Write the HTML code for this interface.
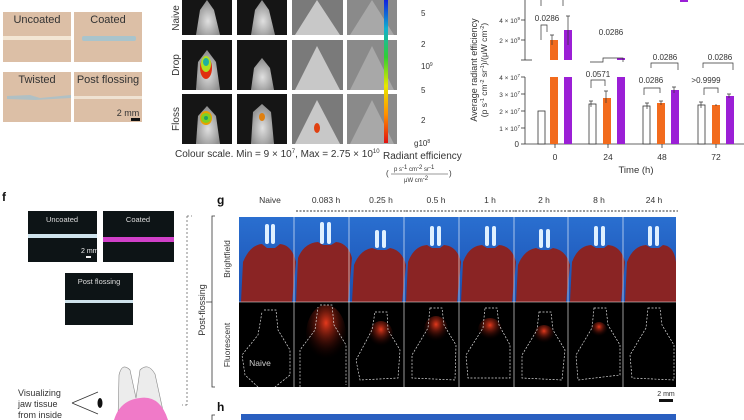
<!DOCTYPE html>
<html><head><meta charset="utf-8"><style>
html,body{margin:0;padding:0;background:#fff;}
svg{display:block;font-family:"Liberation Sans",sans-serif;}
</style></head><body>
<svg width="744" height="420" viewBox="0 0 744 420" xmlns="http://www.w3.org/2000/svg">
<defs>
<radialGradient id="glow" cx="50%" cy="30%" r="60%"><stop offset="0" stop-color="#ff4020" stop-opacity="0.9"/><stop offset="1" stop-color="#200000" stop-opacity="0"/></radialGradient>
<linearGradient id="cbar" x1="0" y1="1" x2="0" y2="0"><stop offset="0" stop-color="#e01010"/><stop offset="0.2" stop-color="#ff9000"/><stop offset="0.4" stop-color="#e8e800"/><stop offset="0.6" stop-color="#30d030"/><stop offset="0.8" stop-color="#10b0d0"/><stop offset="1" stop-color="#1020e0"/></linearGradient>
<radialGradient id="mouse" cx="50%" cy="60%" r="55%"><stop offset="0" stop-color="#e0e0e0"/><stop offset="1" stop-color="#909090"/></radialGradient>
<linearGradient id="blue" x1="0" y1="0" x2="0" y2="1"><stop offset="0" stop-color="#2a6fd0"/><stop offset="1" stop-color="#1a4fb0"/></linearGradient>
</defs>
<g font-size="11" fill="#333" text-anchor="middle">
<rect x="3" y="12" width="68" height="50" fill="#dcbfa6"/><rect x="3" y="36" width="68" height="4" fill="#f3e6d4"/><text x="37" y="23">Uncoated</text>
<rect x="74" y="12" width="68" height="50" fill="#dcbfa6"/><rect x="82" y="36" width="54" height="5" rx="2" fill="#a9c4cc"/><text x="108" y="23">Coated</text>
<rect x="3" y="72" width="68" height="50" fill="#dcbfa6"/><path d="M7 96 L30 95 L40 98 L71 95 L71 98 L35 100 L7 99Z" fill="#b0c0c4"/><text x="37" y="83">Twisted</text>
<rect x="74" y="72" width="68" height="50" fill="#dcbfa6"/><rect x="74" y="96" width="68" height="3" fill="#efe2d2"/><text x="108" y="83">Post flossing</text>
<text x="128" y="116" font-size="9">2 mm</text><rect x="131" y="118" width="9" height="3" fill="#111"/>
</g>
<g font-size="10" fill="#333">
<text transform="translate(179,18) rotate(-90)" text-anchor="middle">Naive</text>
<text transform="translate(179,65) rotate(-90)" text-anchor="middle">Drop</text>
<text transform="translate(179,119) rotate(-90)" text-anchor="middle">Floss</text>
</g>
<g>
<rect x="182" y="0" width="50" height="35" fill="#151515"/><rect x="237" y="0" width="50" height="35" fill="#151515"/><rect x="292" y="0" width="51" height="35" fill="#7a7a7a"/><rect x="347" y="0" width="50" height="35" fill="#8a8a8a"/>
<rect x="182" y="40" width="50" height="50" fill="#151515"/><rect x="237" y="40" width="50" height="50" fill="#151515"/><rect x="292" y="40" width="51" height="50" fill="#7a7a7a"/><rect x="347" y="40" width="50" height="50" fill="#8a8a8a"/>
<rect x="182" y="94" width="50" height="50" fill="#151515"/><rect x="237" y="94" width="50" height="50" fill="#151515"/><rect x="292" y="94" width="51" height="50" fill="#7a7a7a"/><rect x="347" y="94" width="50" height="50" fill="#8a8a8a"/>
<path d="M196 35 L200 10 L207 0 L214 10 L220 35Z" fill="url(#mouse)"/><path d="M251 35 L255 10 L262 0 L269 10 L275 35Z" fill="url(#mouse)"/>
<path d="M196 90 L198 62 L207 50 L216 62 L220 90Z" fill="url(#mouse)"/><path d="M251 90 L254 68 L262 58 L270 68 L274 90Z" fill="url(#mouse)"/>
<path d="M196 144 L198 116 L207 106 L216 116 L220 144Z" fill="url(#mouse)"/><path d="M251 144 L253 112 L262 104 L271 112 L274 144Z" fill="url(#mouse)"/>
<path d="M295 35 L317 0 L340 35Z" fill="#c8c8c8"/><path d="M295 90 L317 46 L340 90Z" fill="#c8c8c8"/><path d="M295 144 L317 100 L340 144Z" fill="#c8c8c8"/>
<path d="M350 35 L372 0 L394 35Z" fill="#a8a8a8"/><path d="M350 90 L372 46 L394 90Z" fill="#a8a8a8"/><path d="M350 144 L372 100 L394 144Z" fill="#a8a8a8"/>
<ellipse cx="206" cy="68" rx="6" ry="11" fill="#e03010"/><ellipse cx="206" cy="64" rx="5" ry="8" fill="#b0e020"/><ellipse cx="206" cy="62" rx="3" ry="4" fill="#20b0a0"/>
<ellipse cx="206" cy="118" rx="6" ry="7" fill="#e8a000"/><ellipse cx="206" cy="118" rx="5" ry="5" fill="#80d020"/><ellipse cx="206" cy="118" rx="2" ry="2" fill="#20a060"/>
<ellipse cx="262" cy="117" rx="3" ry="4" fill="#e08010"/><ellipse cx="317" cy="128" rx="3" ry="5" fill="#e04010"/>
</g>
<text x="175" y="157" font-size="10" fill="#333">Colour scale. Min = 9 × 10<tspan font-size="6" dy="-4">7</tspan><tspan dy="4">, Max = 2.75 × 10</tspan><tspan font-size="6" dy="-4">10</tspan></text>
<rect x="384" y="0" width="4" height="143" fill="url(#cbar)"/>
<g font-size="8" fill="#333"><text x="421" y="16">5</text><text x="421" y="47">2</text><text x="421" y="69">10<tspan font-size="5" dy="-3">9</tspan></text><text x="421" y="93">5</text><text x="421" y="123">2</text><text x="414" y="146">g10<tspan font-size="5" dy="-3">8</tspan></text></g>
<text x="383" y="159" font-size="10" fill="#333">Radiant efficiency</text>
<text x="394" y="171" font-size="6" fill="#333">p s<tspan dy="-2">-1</tspan><tspan dy="2"> cm</tspan><tspan dy="-2">-2</tspan><tspan dy="2"> sr</tspan><tspan dy="-2">-1</tspan></text>
<line x1="391" y1="174" x2="448" y2="174" stroke="#333" stroke-width="0.6"/><text x="386" y="176" font-size="8" fill="#333">(</text><text x="449" y="176" font-size="8" fill="#333">)</text>
<text x="404" y="182" font-size="6" fill="#333">μW cm<tspan dy="-2">-2</tspan></text>
<g stroke="#333" stroke-width="0.8" fill="none">
<line x1="525" y1="0" x2="525" y2="60"/><line x1="525" y1="77" x2="525" y2="144"/><line x1="525" y1="144" x2="744" y2="144"/>
<line x1="521" y1="20" x2="525" y2="20"/><line x1="521" y1="40" x2="525" y2="40"/><line x1="521" y1="60" x2="532" y2="60"/>
<line x1="521" y1="77" x2="525" y2="77"/><line x1="521" y1="94" x2="525" y2="94"/><line x1="521" y1="111" x2="525" y2="111"/><line x1="521" y1="128" x2="525" y2="128"/><line x1="521" y1="144" x2="525" y2="144"/>
<line x1="555" y1="144" x2="555" y2="148"/><line x1="608" y1="144" x2="608" y2="148"/><line x1="662" y1="144" x2="662" y2="148"/><line x1="716" y1="144" x2="716" y2="148"/>
</g>
<g font-size="6.5" fill="#333" text-anchor="end">
<text x="520" y="23">4 × 10<tspan font-size="4.5" dy="-3">9</tspan></text><text x="520" y="43">2 × 10<tspan font-size="4.5" dy="-3">9</tspan></text>
<text x="520" y="80">4 × 10<tspan font-size="4.5" dy="-3">7</tspan></text><text x="520" y="97">3 × 10<tspan font-size="4.5" dy="-3">7</tspan></text><text x="520" y="114">2 × 10<tspan font-size="4.5" dy="-3">7</tspan></text><text x="520" y="131">1 × 10<tspan font-size="4.5" dy="-3">7</tspan></text><text x="519" y="147" font-size="8">0</text>
</g>
<g font-size="8.5" fill="#333" text-anchor="middle"><text x="555" y="160">0</text><text x="608" y="160">24</text><text x="662" y="160">48</text><text x="716" y="160">72</text><text x="636" y="173" font-size="9.5">Time (h)</text></g>
<text transform="translate(477,70) rotate(-90)" font-size="9" fill="#333" text-anchor="middle">Average radiant efficiency</text>
<text transform="translate(487,70) rotate(-90)" font-size="8.5" fill="#333" text-anchor="middle">(p s<tspan font-size="5.5" dy="-3">-1</tspan><tspan dy="3"> cm</tspan><tspan font-size="5.5" dy="-3">-2</tspan><tspan dy="3"> sr</tspan><tspan font-size="5.5" dy="-3">-1</tspan><tspan dy="3">)/(μW cm</tspan><tspan font-size="5.5" dy="-3">-2</tspan><tspan dy="3">)</tspan></text>
<g stroke="#333" stroke-width="0.8">
<rect x="538" y="111" width="7" height="33" fill="#fff"/>
<rect x="550" y="77" width="8" height="67" fill="#f26b1d" stroke="none"/><rect x="550" y="40" width="8" height="20" fill="#f26b1d" stroke="none"/>
<rect x="564" y="77" width="8" height="67" fill="#9b1fd6" stroke="none"/><rect x="564" y="30" width="8" height="30" fill="#9b1fd6" stroke="none"/>
<rect x="589" y="104" width="7" height="40" fill="#fff"/><rect x="603" y="98" width="8" height="46" fill="#f26b1d" stroke="none"/>
<rect x="617" y="77" width="8" height="67" fill="#9b1fd6" stroke="none"/><rect x="617" y="58" width="8" height="2" fill="#9b1fd6" stroke="none"/>
<rect x="643" y="106" width="7" height="38" fill="#fff"/><rect x="657" y="103" width="8" height="41" fill="#f26b1d" stroke="none"/><rect x="671" y="90" width="8" height="54" fill="#9b1fd6" stroke="none"/>
<rect x="698" y="105" width="7" height="39" fill="#fff"/><rect x="712" y="105" width="8" height="39" fill="#f26b1d" stroke="none"/><rect x="726" y="96" width="8" height="48" fill="#9b1fd6" stroke="none"/>
<g fill="none" stroke-width="0.7">
<path d="M552 35V45M550 35h4M568 16V45M566 16h4M591 101v6M589 101h4M606 91v12M604 91h4M647 103v6M645 103h4M661 101v4M659 101h4M674 87v6M672 87h4M701 102v6M699 102h4M716 104v2M729 94v4M727 94h4"/>
<path d="M541 40V25H547V32"/><path d="M590 62H603V58H623V62"/><path d="M591 88V80H605V86"/><path d="M644 95V88H660V93"/><path d="M651 68V63H678V70"/><path d="M704 95V88H718V93"/><path d="M703 68V63H733V70"/>
<path d="M541 0V6M563 0V6"/>
</g></g>
<g font-size="8" fill="#333" text-anchor="middle"><text x="547" y="21">0.0286</text><text x="611" y="35">0.0286</text><text x="598" y="77">0.0571</text><text x="651" y="83">0.0286</text><text x="665" y="60">0.0286</text><text x="706" y="83">&gt;0.9999</text><text x="720" y="60">0.0286</text></g>
<rect x="680" y="0" width="8" height="2" fill="#9b1fd6"/>
<text x="2" y="201" font-size="12" font-weight="bold" fill="#111">f</text>
<rect x="28" y="211" width="69" height="51" fill="#0d1416"/><rect x="28" y="234" width="69" height="4" fill="#cfe3ec"/><text x="62" y="222" font-size="7.5" fill="#ddd" text-anchor="middle">Uncoated</text><text x="81" y="253" font-size="7" fill="#eee">2 mm</text><rect x="86" y="256" width="5" height="2" fill="#eee"/>
<rect x="103" y="211" width="71" height="51" fill="#0d1416"/><rect x="103" y="237" width="71" height="5" fill="#d040c8"/><text x="138" y="222" font-size="7.5" fill="#ddd" text-anchor="middle">Coated</text>
<rect x="65" y="273" width="68" height="52" fill="#0d1416"/><rect x="65" y="300" width="68" height="3" fill="#cfe3ec"/><text x="99" y="284" font-size="7.5" fill="#ddd" text-anchor="middle">Post flossing</text>
<path d="M187 216V405M187 216h5M187 405h-5" stroke="#666" stroke-dasharray="2 2" fill="none" stroke-width="0.8"/>
<text transform="translate(205,310) rotate(-90)" font-size="9" fill="#333" text-anchor="middle">Post-flossing</text>
<path d="M118 420L119 375Q122 362 130 370L136 398L140 370Q148 362 155 374L165 420Z" fill="#ececec" stroke="#888" stroke-width="0.6"/>
<path d="M114 420Q120 400 140 398Q160 395 168 420Z" fill="#f07ac8"/>
<g font-size="9" fill="#333"><text x="18" y="396">Visualizing</text><text x="18" y="407">jaw tissue</text><text x="18" y="418">from inside</text></g>
<path d="M72 403L98 392M72 403L98 414" stroke="#333" stroke-width="0.8" fill="none"/><ellipse cx="100" cy="403" rx="2.5" ry="5" fill="#111"/>
<text x="217" y="204" font-size="12" font-weight="bold" fill="#111">g</text>
<g font-size="8.5" fill="#333" text-anchor="middle"><text x="270" y="203">Naive</text><text x="326" y="203">0.083 h</text><text x="381" y="203">0.25 h</text><text x="436" y="203">0.5 h</text><text x="490" y="203">1 h</text><text x="544" y="203">2 h</text><text x="599" y="203">8 h</text><text x="654" y="203">24 h</text></g>
<g stroke="#333" stroke-width="0.9" stroke-dasharray="2 1.5" fill="none"><path d="M296 211h56M351 211h55M406 211h55M460 211h55M515 211h55M569 211h55M624 211h54"/></g>
<path d="M215 216h-3V387h3M212 302h-6" stroke="#333" stroke-width="0.8" fill="none"/>
<text transform="translate(230,259) rotate(-90)" font-size="8.5" fill="#333" text-anchor="middle">Brightfield</text>
<text transform="translate(230,345) rotate(-90)" font-size="8.5" fill="#333" text-anchor="middle">Fluorescent</text>
<rect x="239" y="217" width="437" height="170" fill="#000"/>
<rect x="239" y="217" width="437" height="85" fill="url(#blue)"/>
<g fill="#8a2424">
<path d="M241 302L243 262Q250 245 262 244L267 248L275 248L280 244Q292 245 296 262L292 302Z"/>
<path d="M296 302L298 258Q304 243 318 242L323 245L331 245L336 242Q348 243 352 258L348 302Z"/>
<path d="M352 302L354 265Q360 250 372 248L378 250L386 250L390 248Q402 250 406 265L402 302Z"/>
<path d="M406 302L408 262Q414 246 427 245L432 248L440 248L444 245Q457 246 461 262L457 302Z"/>
<path d="M461 302L463 262Q469 246 482 245L487 248L495 248L499 245Q512 246 516 262L512 302Z"/>
<path d="M516 302L518 265Q524 250 536 248L541 250L549 250L553 248Q566 250 570 265L566 302Z"/>
<path d="M570 302L572 262Q578 246 591 245L596 248L604 248L608 245Q621 246 625 262L621 302Z"/>
<path d="M625 302L627 262Q633 246 646 245L651 248L659 248L663 245Q674 246 676 262L676 302Z"/>
</g>
<g fill="#dff0ff">
<rect x="265" y="224" width="4" height="20" rx="2"/><rect x="271" y="224" width="4" height="20" rx="2"/>
<rect x="320" y="222" width="4" height="22" rx="2"/><rect x="327" y="222" width="4" height="22" rx="2"/>
<rect x="375" y="230" width="4" height="18" rx="2"/><rect x="382" y="230" width="4" height="18" rx="2"/>
<rect x="430" y="226" width="4" height="20" rx="2"/><rect x="437" y="226" width="4" height="20" rx="2"/>
<rect x="485" y="226" width="4" height="20" rx="2"/><rect x="492" y="226" width="4" height="20" rx="2"/>
<rect x="539" y="229" width="4" height="19" rx="2"/><rect x="546" y="229" width="4" height="19" rx="2"/>
<rect x="594" y="226" width="4" height="20" rx="2"/><rect x="601" y="226" width="4" height="20" rx="2"/>
<rect x="648" y="226" width="4" height="20" rx="2"/><rect x="655" y="226" width="4" height="20" rx="2"/>
</g>
<g stroke="#fff" stroke-width="0.6" fill="none"><path d="M294 217V387M349 217V387M404 217V387M459 217V387M514 217V387M568 217V387M623 217V387M239 302H676"/></g>
<g fill="url(#glow)"><ellipse cx="326" cy="335" rx="20" ry="30"/><ellipse cx="381" cy="335" rx="12" ry="14"/><ellipse cx="436" cy="330" rx="12" ry="14"/><ellipse cx="490" cy="330" rx="12" ry="12"/><ellipse cx="544" cy="335" rx="10" ry="10"/><ellipse cx="599" cy="330" rx="8" ry="8"/></g>
<g stroke="#ddd" stroke-width="0.7" stroke-dasharray="2 1.5" fill="none">
<path d="M264 310L276 310L278 330L290 350L290 375L275 387M258 387L245 375L242 355L258 335L262 312"/>
<path d="M320 305L332 305L334 325L346 345L346 385M300 387L300 350L315 330L318 307"/>
<path d="M375 312L387 312L388 330L400 350L398 378L360 380L356 360L372 330Z"/>
<path d="M430 308L442 308L444 325L456 345L455 380L412 378L412 355L428 328Z"/>
<path d="M485 308L497 308L499 325L510 345L510 378L468 378L466 355L483 328Z"/>
<path d="M539 312L551 312L553 330L565 350L562 380L522 378L522 355L537 330Z"/>
<path d="M594 308L606 308L608 325L620 345L620 375L578 380L576 355L592 328Z"/>
<path d="M648 308L660 308L662 325L674 345L674 380L632 378L630 355L646 328Z"/>
</g>
<text x="260" y="366" font-size="8.5" fill="#ccc" text-anchor="middle">Naive</text>
<text x="666" y="396" font-size="7" fill="#333" text-anchor="middle">2 mm</text><rect x="659" y="399" width="14" height="3" fill="#111"/>
<text x="217" y="411" font-size="12" font-weight="bold" fill="#111">h</text>
<path d="M215 415h-3V420" stroke="#333" stroke-width="0.8" fill="none"/>
<rect x="241" y="414" width="435" height="6" fill="#2a5fc0"/>
</svg>
</body></html>
